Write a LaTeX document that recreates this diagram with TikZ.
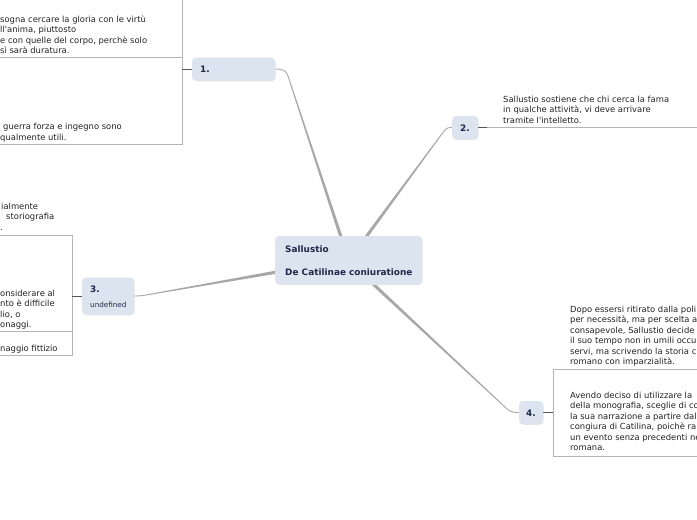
\documentclass[tikz,border=0pt]{standalone}
\usepackage{fontspec}
\setmainfont{DejaVu Sans}
\usetikzlibrary{calc}
\definecolor{topicfill}{HTML}{DCE4F0}
\definecolor{topictext}{HTML}{1C2A45}
\definecolor{conn}{HTML}{A8A8A8}
\definecolor{boxline}{HTML}{B4B4B4}
\definecolor{stub}{HTML}{555555}
\definecolor{bodytext}{HTML}{222222}
\tikzset{
  topic/.style={fill=topicfill, rounded corners=4pt, draw=none, inner sep=0pt},
  topicshadow/.style={fill=black!10, rounded corners=4pt, draw=none, inner sep=0pt},
  lbl/.style={anchor=base west, inner sep=0pt, font=\fontsize{8.9}{10}\selectfont\bfseries, text=topictext},
  sublbl/.style={anchor=base west, inner sep=0pt, font=\fontsize{7.2}{9}\selectfont, text=topictext},
  body/.style={anchor=base west, inner sep=0pt, font=\fontsize{8.4}{10.5}\selectfont, text=bodytext},
  boxln/.style={draw=boxline, line width=0.8pt},
  stubln/.style={draw=stub, line width=0.8pt},
  connthin/.style={draw=conn, line width=0.9pt},
}
\newcommand{\taper}[2]{%
  \fill[conn] ($(#1)!1.6pt!90:(#2)$) -- ($(#2)!0.45pt!-90:(#1)$) -- ($(#2)!0.45pt!90:(#1)$) -- ($(#1)!1.6pt!-90:(#2)$) -- cycle;}
\begin{document}
\begin{tikzpicture}[x=1pt,y=-1pt]
\useasboundingbox (0,0) rectangle (697,520);

% topic nodes (shapes)
\node[topicshadow, minimum width=83pt, minimum height=23pt] at (234.2,69.8) {};
\node[topic, minimum width=83pt, minimum height=23pt] (n1) at (233.5,69) {};
\node[topicshadow, minimum width=26pt, minimum height=23pt] at (465.7,128.3) {};
\node[topic, minimum width=26pt, minimum height=23pt] (n2) at (465,127.5) {};
\node[topicshadow, minimum width=52pt, minimum height=37pt] at (108.7,296.8) {};
\node[topic, minimum width=52pt, minimum height=37pt] (n3) at (108,296) {};
\node[topicshadow, minimum width=24pt, minimum height=23pt] at (531.7,413.3) {};
\node[topic, minimum width=24pt, minimum height=23pt] (n4) at (531,412.5) {};

% connector coordinates
\coordinate (a1) at (341,237);
\coordinate (b1) at (288,76);
\coordinate (a2) at (366,237);
\coordinate (b2) at (444,131);
\coordinate (a3) at (277,272);
\coordinate (b3) at (146,295);
\coordinate (a4) at (372,283);
\coordinate (b4) at (506,408);

\taper{a1}{b1}
\draw[connthin] (b1) .. controls (286,70.5) and (283,69) .. (n1.east);
\taper{a2}{b2}
\draw[connthin] (b2) .. controls (446.5,128) and (448,127.5) .. (n2.west);
\taper{a3}{b3}
\draw[connthin] (b3) .. controls (141,296) and (138,296) .. (n3.east);
\taper{a4}{b4}
\draw[connthin] (b4) .. controls (509.5,411.5) and (512,412.5) .. (n4.west);

% central topic
\node[topicshadow, minimum width=147pt, minimum height=48pt] at (349.2,260.8) {};
\node[topic, minimum width=147pt, minimum height=48pt] (c) at (348.5,260) {};
\node[lbl] (ct1) at (285,252.5) {Sallustio};
\node[lbl] (ct2) at (285,275) {De Catilinae coniuratione};

% topic labels
\node[lbl] (l1) at (200,72.5) {1.};
\node[lbl] (l2) at (460,131) {2.};
\node[lbl] (l3) at (90,292.5) {3.};
\node[sublbl] (l3b) at (90,307) {undefined};
\node[lbl] (l4) at (526,416) {4.};

% branch 1 boxes
\draw[boxln] (182,-2) -- (182,144) -- (-2,144);
\draw[boxln] (-2,57.5) -- (182,57.5);
\draw[stubln] (182,69) -- (n1.west);
\foreach \t [count=\i from 0] in {{sogna cercare la gloria con le virtù},{ll\textquotesingle anima, piuttosto},{e con quelle del corpo, perchè solo},{sì sarà duratura.}}
  \node[body] (ta\i) at (0,{22+10.5*\i}) {\t};
\node[body] (tb0) at (3,129) {guerra forza e ingegno sono};
\node[body] (tb1) at (0,140) {qualmente utili.};

% branch 2
\draw[stubln] (n2.east) -- (487,127.5);
\draw[boxln] (487,127.5) -- (699,127.5);
\foreach \t [count=\i from 0] in {{Sallustio sostiene che chi cerca la fama},{in qualche attività, vi deve arrivare},{tramite l\textquotesingle intelletto.}}
  \node[body] (tc\i) at (503,{102+10.5*\i}) {\t};

% branch 3
\draw[boxln] (-2,235) -- (72,235) -- (72,355) -- (-2,355);
\draw[boxln] (-2,331) -- (72,331);
\draw[stubln] (n3.west) -- (72,296);
\node[body] (td0) at (1,209) {ialmente};
\node[body] (td1) at (6,219.5) {storiografia};
\node[body] (td2) at (0,230) {.};
\foreach \t [count=\i from 0] in {{onsiderare al},{nto è difficile},{lio, o},{onaggi.}}
  \node[body] (te\i) at (0,{296+10.5*\i}) {\t};
\node[body] (tf0) at (0,351) {naggio fittizio};

% branch 4
\draw[boxln] (699,369) -- (553,369) -- (553,456) -- (699,456);
\draw[stubln] (n4.east) -- (553,412.5);
\foreach \t [count=\i from 0] in {{Dopo essersi ritirato dalla poli},{per necessità, ma per scelta a},{consapevole, Sallustio decide},{il suo tempo non in umili occu},{servi, ma scrivendo la storia c},{romano con imparzialità.}}
  \node[body] (tg\i) at (570,{312+10.5*\i}) {\t};
\foreach \t [count=\i from 0] in {{Avendo deciso di utilizzare la},{della monografia, sceglie di co},{la sua narrazione a partire dal},{congiura di Catilina, poichè ra},{un evento senza precedenti ne},{romana.}}
  \node[body] (th\i) at (570,{398+10.5*\i}) {\t};
\end{tikzpicture}
\end{document}
